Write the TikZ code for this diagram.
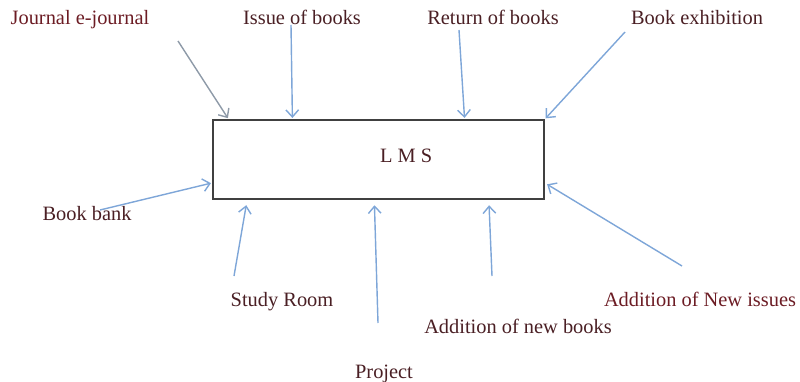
\documentclass[tikz,border=0pt]{standalone}
\usepackage{fontspec}
\setmainfont{Liberation Serif}
\usetikzlibrary{arrows.meta}

\definecolor{maroon}{HTML}{4A1F24}
\definecolor{darkred}{HTML}{6C1C24}
\definecolor{flowblue}{HTML}{7EA6D8}
\definecolor{flowgrey}{HTML}{8E9AA8}

\tikzstyle{lbl} = [inner sep=0pt, anchor=base, text=maroon, font=\fontsize{14.5}{17}\selectfont]
\tikzstyle{sys} = [rectangle, draw=black!75, line width=0.9pt, inner sep=0pt, minimum width=8.275cm, minimum height=1.975cm]

\begin{document}
\begin{tikzpicture}[->,>={Straight Barb[length=5pt,width=9pt]},shorten >=1pt,line width=1pt,draw=flowblue,x=0.025cm,y=-0.025cm]
\useasboundingbox (0,0) rectangle (800,381);

\node[sys, label={[lbl, anchor=center, xshift=0.69cm, yshift=0.09cm]center:L M S}] (LMS) at (378.5,159.5) {};

% labels round the system
\node[lbl, text=darkred] (J) at (80,25) {Journal e-journal};
\node[lbl] (I) at (302,25) {Issue of books};
\node[lbl] (R) at (493,25) {Return of books};
\node[lbl] (E) at (697,25) {Book exhibition};
\node[lbl] (B) at (87,220) {Book bank};
\node[lbl] (S) at (282,306) {Study Room};
\node[lbl] (P) at (384,378) {Project};
\node[lbl] (NB) at (518,333) {Addition of new books};
\node[lbl, text=darkred] (NI) at (700,306) {Addition of New issues};

% free ends of the arrows
\coordinate (Js) at (178,41);
\coordinate (Is) at (291,25);
\coordinate (Rs) at (459,30);
\coordinate (Es) at (625,32);
\coordinate (Bs) at (100,210);
\coordinate (Ss) at (234,276);
\coordinate (Ps) at (378,323);
\coordinate (NBs) at (492,276);
\coordinate (NIs) at (682,266);

\path
    (Js) edge[draw=flowgrey] (LMS.165.3)
    (Is) edge (LMS.155.2)
    (Rs) edge (LMS.25.6)
    (Es) edge (LMS.north east)
    (Bs) edge (LMS.188.8)
    (Ss) edge[shorten >=4pt] (LMS.197.6)
    (Ps) edge[shorten >=4pt] (LMS.264.9)
    (NBs) edge[shorten >=4pt] (LMS.340.6)
    (NIs) edge[shorten >=2pt] (LMS.352.9)
    ;

\end{tikzpicture}
\end{document}
